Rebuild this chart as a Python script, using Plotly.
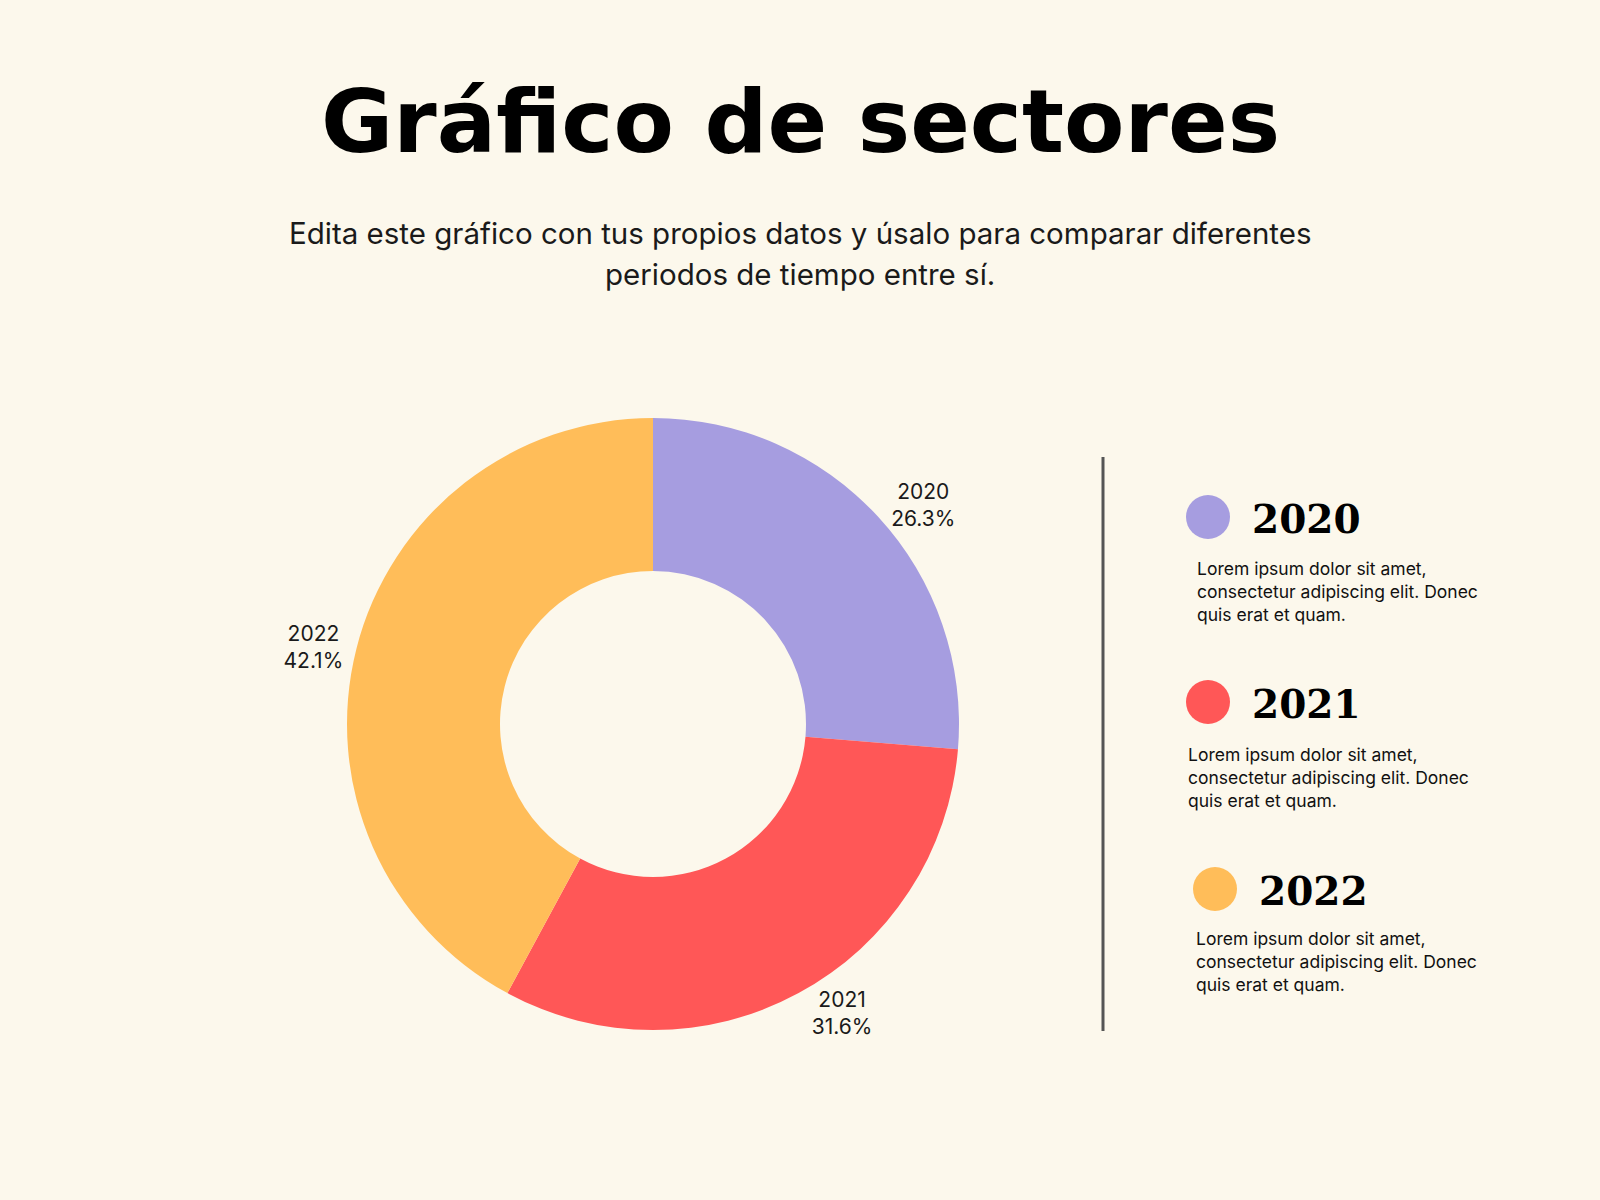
import plotly.graph_objects as go

# datos del grafico
years = ["2020", "2021", "2022"]
values = [5, 6, 8]
colors = ["#A69DE0", "#FF5757", "#FFBD59"]
desc = "Lorem ipsum dolor sit amet,<br>consectetur adipiscing elit. Donec<br>quis erat et quam."

title = "Gráfico de sectores"
subtitle_lines = ["Edita este gráfico con tus propios datos y úsalo para comparar diferentes",
                  "periodos de tiempo entre sí."]

W, H = 1600, 1200
bg = "#FCF8EC"


def px_x(x):
    return x / W


def px_y(y):
    return 1 - y / H


# pie: centro (653, 724), radio 306
cx, cy, r = 653, 724, 306
fig = go.Figure(go.Pie(
    labels=years,
    values=values,
    marker=dict(colors=colors),
    hole=0.5,
    sort=False,
    direction="clockwise",
    textposition="outside",
    texttemplate="%{label}<br>%{percent:.1%}",
    textfont=dict(family="Inter", size=21, color="#1a1a1a"),
    showlegend=False,
    domain=dict(x=[px_x(cx - r), px_x(cx + r)], y=[px_y(cy + r), px_y(cy - r)]),
))

annotations = [
    dict(text=title, x=0.5, y=px_y(121), xref="paper", yref="paper",
         showarrow=False, xanchor="center", yanchor="middle",
         font=dict(family="DejaVu Sans", size=88, color="#000000", weight="bold")),
]
for i, line in enumerate(subtitle_lines):
    annotations.append(dict(text=line, x=0.5, y=px_y(233 + 40.5 * i), xref="paper", yref="paper",
                            showarrow=False, xanchor="center", yanchor="middle",
                            font=dict(family="Inter", size=29.5, color="#1a1a1a")))

shapes = [
    dict(type="line", xref="paper", yref="paper",
         x0=px_x(1103), x1=px_x(1103), y0=px_y(457), y1=px_y(1031),
         line=dict(color="#555555", width=3)),
]

# leyenda propia: circulo, año y texto
legend_pos = [
    # (cx circulo, cy circulo, x año, x texto, y texto)
    (1208, 517, 1250, 1195, 556),
    (1208, 702, 1250, 1186, 742),
    (1215, 889, 1257, 1194, 926),
]
rc = 22
for yr, col, (lx, ly, tx, dx, dy) in zip(years, colors, legend_pos):
    shapes.append(dict(type="circle", xref="paper", yref="paper",
                       x0=px_x(lx - rc), x1=px_x(lx + rc),
                       y0=px_y(ly + rc), y1=px_y(ly - rc),
                       fillcolor=col, line=dict(width=0)))
    annotations.append(dict(text=yr, x=px_x(tx), y=px_y(ly + 2), xref="paper", yref="paper",
                            showarrow=False, xanchor="left", yanchor="middle",
                            font=dict(family="DejaVu Serif", size=39,
                                      color="#000000", weight="bold")))
    annotations.append(dict(text=desc, x=px_x(dx), y=px_y(dy), xref="paper", yref="paper",
                            showarrow=False, xanchor="left", yanchor="top", align="left",
                            font=dict(family="Inter", size=17.5, color="#111111")))

fig.update_layout(
    width=W, height=H,
    margin=dict(l=0, r=0, t=0, b=0),
    paper_bgcolor=bg,
    plot_bgcolor=bg,
    annotations=annotations,
    shapes=shapes,
)

fig.write_html("out.html", config={"displayModeBar": False},
               post_script="document.body.style.margin='0';document.body.style.overflow='hidden';")
